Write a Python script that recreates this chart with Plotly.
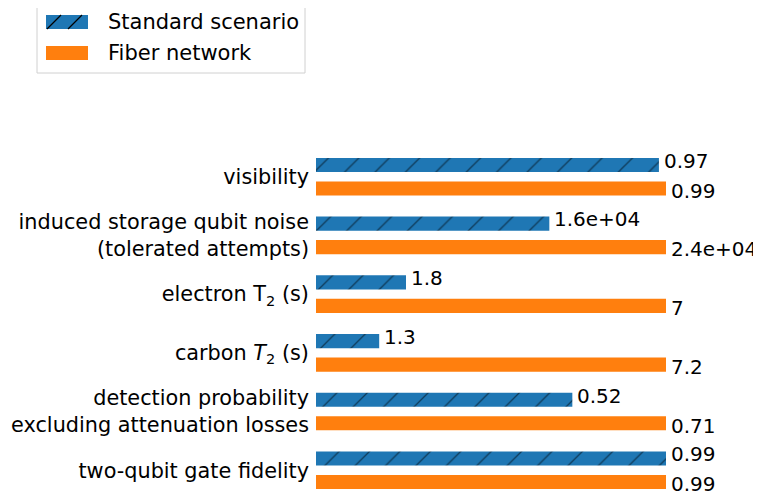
import plotly.graph_objects as go

# parameter names, top to bottom
categories = [
    "visibility",
    "induced storage qubit noise<br>(tolerated attempts)",
    "electron T<sub>2</sub> (s)",
    "carbon <i>T</i><sub>2</sub> (s)",
    "detection probability<br>excluding attenuation losses",
    "two-qubit gate fidelity",
]
standard_values = [0.97, 1.6e4, 1.8, 1.3, 0.52, 0.99]
fiber_values = [0.99, 2.4e4, 7.0, 7.2, 0.71, 0.99]
series_names = ["Standard scenario", "Fiber network"]

# bar lengths are relative to the fiber network requirement
standard_rel = [s / f for s, f in zip(standard_values, fiber_values)]
fiber_rel = [f / f for f in fiber_values]

FONT = "DejaVu Sans"
FS = 21
FS_VAL = 20
BLUE = "#1f77b4"
ORANGE = "#ff7f0e"
# page body adds an 8px offset, so the figure is 8px smaller
OFF = 8
W, H = 761 - OFF, 495 - OFF
L, R, T, B = 316 - OFF, 95, 140 - OFF, 3

fig = go.Figure()
fig.add_trace(go.Bar(
    y=categories, x=standard_rel, orientation="h",
    name=series_names[0],
    marker=dict(color=BLUE, line=dict(width=0),
                pattern=dict(shape="/", fgcolor="black", bgcolor=BLUE,
                             size=21.5, solidity=0.06)),
))
fig.add_trace(go.Bar(
    y=categories, x=fiber_rel, orientation="h",
    name=series_names[1],
    marker=dict(color=ORANGE, line=dict(width=0)),
))

annotations = []
for cat, xv, v in zip(categories, standard_rel, standard_values):
    annotations.append(dict(x=xv, y=cat, text=f"{v:.2g}", xshift=3, yshift=16))
for cat, xv, v in zip(categories, fiber_rel, fiber_values):
    annotations.append(dict(x=xv, y=cat, text=f"{v:.2g}", xshift=3, yshift=-14))
for a in annotations:
    a.update(xref="x", yref="y", xanchor="left", yanchor="middle",
             showarrow=False, font=dict(size=FS_VAL, family=FONT, color="black"))


# legend drawn by hand so the swatches look like wide patches
def px(x):
    return (x - OFF - L) / (W - L - R)


def py(y):
    return (H - B - (y - OFF)) / (H - T - B)


shapes = [
    dict(type="rect", x0=px(37), x1=px(305), y0=py(5), y1=py(73),
         line=dict(color="#d0d0d0", width=1), fillcolor="white"),
    dict(type="rect", x0=px(46), x1=px(88), y0=py(15), y1=py(29),
         line=dict(width=0), fillcolor=BLUE),
    dict(type="line", x0=px(47), x1=px(61), y0=py(29), y1=py(15),
         line=dict(color="black", width=1.2)),
    dict(type="line", x0=px(68), x1=px(82), y0=py(29), y1=py(15),
         line=dict(color="black", width=1.2)),
    dict(type="rect", x0=px(46), x1=px(88), y0=py(46), y1=py(60),
         line=dict(width=0), fillcolor=ORANGE),
]
for s in shapes:
    s.update(xref="paper", yref="paper")

legend_text = [
    dict(x=px(106), y=py(22), text=series_names[0]),
    dict(x=px(106), y=py(53), text=series_names[1]),
]
for a in legend_text:
    a.update(xref="paper", yref="paper", xanchor="left", yanchor="middle",
             showarrow=False, font=dict(size=FS, family=FONT, color="black"))
annotations += legend_text

fig.update_layout(
    width=W, height=H,
    margin=dict(l=L, r=R, t=T, b=B),
    plot_bgcolor="white", paper_bgcolor="white",
    font=dict(family=FONT, size=FS, color="black"),
    barmode="group", bargap=0.2, bargroupgap=0.4,
    showlegend=False,
    shapes=shapes, annotations=annotations,
)
fig.update_xaxes(range=[0, 1], visible=False, automargin=False)
fig.update_yaxes(range=[5.37, -0.625], showgrid=False, zeroline=False,
                 showline=False, ticks="", ticklabelstandoff=6,
                 automargin=False,
                 tickfont=dict(size=20.8, family=FONT, color="black"))

fig.write_html("out.html")
